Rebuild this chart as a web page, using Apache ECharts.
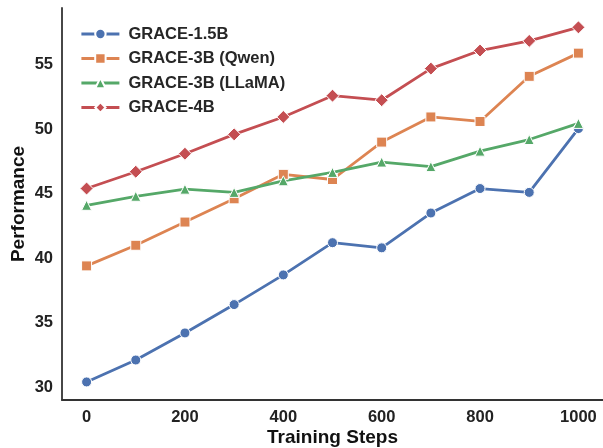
<!DOCTYPE html>
<html lang="en">
<head>
    <meta charset="UTF-8">
    <title>GRACE Performance vs Training Steps</title>
    <style>
        body { margin: 0; background: #fff; }
        #chart { width: 603px; height: 448px; }
    </style>
    <script src="https://cdn.jsdelivr.net/npm/echarts@6/dist/echarts.min.js"></script>
</head>
<body>
<div id="chart"></div>
<script>
    // Data
    var steps = [0, 100, 200, 300, 400, 500, 600, 700, 800, 900, 1000];
    var grace15b = [30.4, 32.1, 34.2, 36.4, 38.7, 41.2, 40.8, 43.5, 45.4, 45.1, 50.05];
    var grace3bQwen = [39.4, 41.0, 42.8, 44.6, 46.5, 46.1, 49.0, 50.95, 50.6, 54.1, 55.9];
    var grace3bLlama = [44.1, 44.8, 45.35, 45.1, 46.0, 46.65, 47.45, 47.1, 48.3, 49.2, 50.45];
    var grace4b = [45.4, 46.7, 48.1, 49.6, 50.95, 52.6, 52.25, 54.7, 56.1, 56.85, 57.9];
    var seriesNames = ['GRACE-1.5B', 'GRACE-3B (Qwen)', 'GRACE-3B (LLaMA)', 'GRACE-4B'];
    var xTicks = [0, 200, 400, 600, 800, 1000];
    var yTicks = [30, 35, 40, 45, 50, 55];

    var colors = ['#4C72B0', '#DD8452', '#55A868', '#C44E52'];
    var symbols = ['circle', 'rect', 'triangle', 'diamond'];
    var symbolSizes = [10, 10, 10, 13];
    var font = 'Liberation Sans, Arial, sans-serif';

    function pairs(vals) {
        return steps.map(function (s, i) { return [s, vals[i]]; });
    }

    var chart = echarts.init(document.getElementById('chart'));
    chart.setOption({
        animation: false,
        textStyle: { fontFamily: font },
        grid: { left: 62, right: 0, top: 8, bottom: 48, outerBoundsMode: 'none' },
        legend: {
            orient: 'vertical',
            left: 75,
            top: 20,
            itemWidth: 38,
            itemHeight: 13,
            itemGap: 6.5,
            data: seriesNames,
            lineStyle: { width: 2.8 },
            textStyle: {
                fontFamily: font, fontSize: 16.5, fontWeight: 'bold', color: '#262626',
                lineHeight: 18, padding: [0, 0, 0, 4]
            }
        },
        xAxis: {
            type: 'value',
            min: -50,
            max: 1050,
            name: 'Training Steps',
            nameLocation: 'middle',
            nameGap: 28,
            nameMoveOverlap: false,
            nameTextStyle: { fontSize: 19, fontWeight: 'bold', color: '#111' },
            axisLine: { onZero: false, lineStyle: { color: '#333', width: 1.8 } },
            axisTick: { show: false },
            splitLine: { show: false },
            axisLabel: {
                customValues: xTicks,
                formatter: function (v) { return String(v); },
                fontSize: 16.5, fontWeight: 'bold', color: '#222', margin: 9
            }
        },
        yAxis: {
            type: 'value',
            min: 29,
            max: 59.4,
            name: 'Performance',
            nameLocation: 'middle',
            nameGap: 34,
            nameMoveOverlap: false,
            nameTextStyle: { fontSize: 19, fontWeight: 'bold', color: '#111' },
            axisLine: { show: true, onZero: false, lineStyle: { color: '#333', width: 1.8 } },
            axisTick: { show: false },
            splitLine: { show: false },
            axisLabel: {
                customValues: yTicks,
                fontSize: 16.5, fontWeight: 'bold', color: '#222', margin: 9
            }
        },
        series: [grace15b, grace3bQwen, grace3bLlama, grace4b].map(function (vals, i) {
            return {
                name: seriesNames[i],
                type: 'line',
                data: pairs(vals),
                symbol: symbols[i],
                symbolSize: symbolSizes[i],
                lineStyle: { color: colors[i], width: 2.8 },
                itemStyle: { color: colors[i], borderColor: '#fff', borderWidth: 1 }
            };
        })
    });
</script>
</body>
</html>
